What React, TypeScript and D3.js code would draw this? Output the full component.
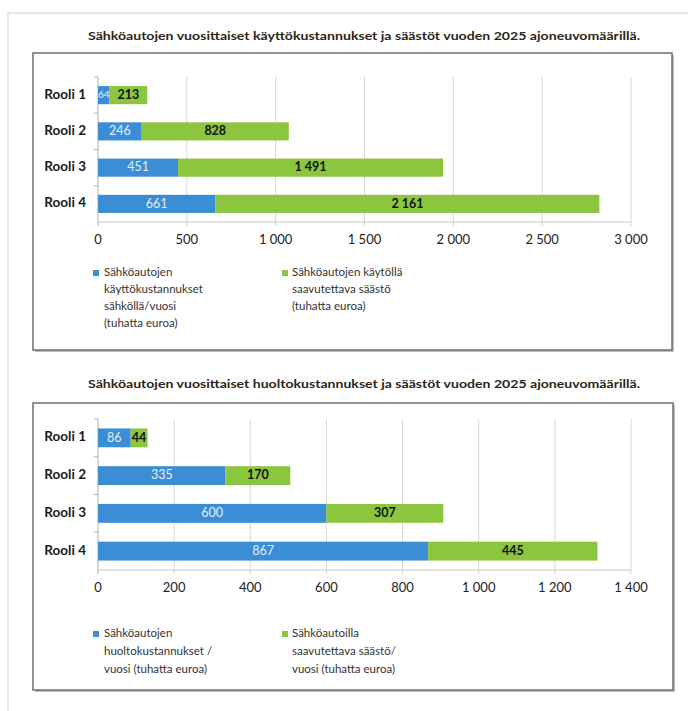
import React from 'react';
import * as d3 from 'd3';

const roles = ['Rooli 1', 'Rooli 2', 'Rooli 3', 'Rooli 4'];

// kaavio 1: käyttökustannukset (tuhatta euroa)
const useCost = [64, 246, 451, 661];
const useSaving = [213, 828, 1491, 2161];
const useTicks = [0, 500, 1000, 1500, 2000, 2500, 3000];
const useTitle = 'Sähköautojen vuosittaiset käyttökustannukset ja säästöt vuoden 2025 ajoneuvomäärillä.';
const useLegendBlue = ['Sähköautojen', 'käyttökustannukset', 'sähköllä/vuosi', '(tuhatta euroa)'];
const useLegendGreen = ['Sähköautojen käytöllä', 'saavutettava säästö', '(tuhatta euroa)'];

// kaavio 2: huoltokustannukset (tuhatta euroa)
const serviceCost = [86, 335, 600, 867];
const serviceSaving = [44, 170, 307, 445];
const serviceTicks = [0, 200, 400, 600, 800, 1000, 1200, 1400];
const serviceTitle = 'Sähköautojen vuosittaiset huoltokustannukset ja säästöt vuoden 2025 ajoneuvomäärillä.';
const serviceLegendBlue = ['Sähköautojen', 'huoltokustannukset /', 'vuosi (tuhatta euroa)'];
const serviceLegendGreen = ['Sähköautoilla', 'saavutettava säästö/', 'vuosi (tuhatta euroa)'];

const BLUE = '#3b8ed5';
const GREEN = '#8cc63e';
const FONT = 'Lato, "Open Sans", sans-serif';

const fmt = (v: number) => d3.format(',')(v).replace(/,/g, '\u00a0');

type ChartProps = {
  title: string;
  titleY: number;
  box: { x: number; y: number; w: number; h: number };
  plot: { top: number; bottom: number };
  cost: number[];
  saving: number[];
  ticks: number[];
  legendBlue: string[];
  legendGreen: string[];
  legendY: number;
  lineH: number;
};

const Chart = ({ title, titleY, box, plot, cost, saving, ticks, legendBlue, legendGreen, legendY, lineH }: ChartProps) => {
  const x = d3.scaleLinear().domain([0, ticks[ticks.length - 1]]).range([98, 631]);
  const y = d3.scaleBand().domain(roles).range([plot.top, plot.bottom]).paddingInner(0.5).paddingOuter(0.25);
  const outer = d3.scaleBand().domain(roles).range([plot.top, plot.bottom]);
  const bh = y.bandwidth();

  return (
    <g>
      <text x={364} y={titleY} textAnchor="middle" dominantBaseline="middle" fontFamily={FONT}
        fontWeight="bold" fontSize={10.5} fill="#2e2416" textLength={552} lengthAdjust="spacingAndGlyphs">
        {title}
      </text>
      {/* varjo + kehys */}
      <rect x={box.x + 2} y={box.y + 2} width={box.w} height={box.h} fill="#bdbdbd" />
      <rect x={box.x} y={box.y} width={box.w} height={box.h} fill="#fff" stroke="#6e6e6e" strokeWidth={1.5} />

      {ticks.map(t => (
        <g key={t}>
          <line x1={x(t)} x2={x(t)} y1={plot.top} y2={plot.bottom + 4}
            stroke={t === 0 ? '#b0b0b0' : '#d6d6d6'} strokeWidth={1} />
          <text x={x(t)} y={plot.bottom + 19} textAnchor="middle" dominantBaseline="middle"
            fontFamily={FONT} fontSize={13} fill="#222">{fmt(t)}</text>
        </g>
      ))}
      <line x1={x(0)} x2={x(ticks[ticks.length - 1])} y1={plot.bottom} y2={plot.bottom} stroke="#c8c8c8" />
      {roles.map(r => (
        <line key={r} x1={x(0) - 4} x2={x(0)} y1={outer(r)!} y2={outer(r)!} stroke="#b0b0b0" />
      ))}

      {roles.map((r, i) => {
        const yy = y(r)!;
        const c = cost[i];
        const s = saving[i];
        return (
          <g key={r}>
            <text x={86} y={yy + bh / 2} textAnchor="end" dominantBaseline="middle" fontFamily={FONT}
              fontWeight="bold" fontSize={13.5} fill="#1a1a1a">{r}</text>
            <rect x={x(0)} y={yy} width={x(c) - x(0)} height={bh} fill={BLUE} />
            <rect x={x(c)} y={yy} width={x(c + s) - x(c)} height={bh} fill={GREEN} />
            <text x={(x(0) + x(c)) / 2} y={yy + bh / 2 + 0.5} textAnchor="middle" dominantBaseline="middle"
              fontFamily={FONT} fontSize={c < 80 ? 10 : 12.5} fill="#e6f0fa">{fmt(c)}</text>
            <text x={(x(c) + x(c + s)) / 2} y={yy + bh / 2 + 0.5} textAnchor="middle" dominantBaseline="middle"
              fontFamily={FONT} fontWeight="bold" fontSize={12.5} fill="#111">{fmt(s)}</text>
          </g>
        );
      })}

      <rect x={93} y={legendY - 3} width={6} height={6} fill={BLUE} />
      {legendBlue.map((t, i) => (
        <text key={t} x={104} y={legendY + i * lineH} dominantBaseline="middle" fontFamily={FONT}
          fontSize={11.5} fill="#333">{t}</text>
      ))}
      <rect x={282} y={legendY - 3} width={6} height={6} fill={GREEN} />
      {legendGreen.map((t, i) => (
        <text key={t} x={292} y={legendY + i * lineH} dominantBaseline="middle" fontFamily={FONT}
          fontSize={11.5} fill="#333">{t}</text>
      ))}
    </g>
  );
};

export default function App() {
  return (
    <svg width={688} height={711} style={{ position: 'absolute', left: 0, top: 0, background: '#fff' }}>
      <line x1={8} x2={688} y1={13} y2={13} stroke="#cfcfcf" />
      <line x1={8} x2={8} y1={13} y2={711} stroke="#cfcfcf" />
      <Chart title={useTitle} titleY={37} box={{ x: 33, y: 53, w: 639, h: 297 }}
        plot={{ top: 77, bottom: 222 }} cost={useCost} saving={useSaving} ticks={useTicks}
        legendBlue={useLegendBlue} legendGreen={useLegendGreen} legendY={273} lineH={17} />
      <Chart title={serviceTitle} titleY={385} box={{ x: 33, y: 403, w: 640, h: 287 }}
        plot={{ top: 419, bottom: 570 }} cost={serviceCost} saving={serviceSaving} ticks={serviceTicks}
        legendBlue={serviceLegendBlue} legendGreen={serviceLegendGreen} legendY={634} lineH={18} />
    </svg>
  );
}
